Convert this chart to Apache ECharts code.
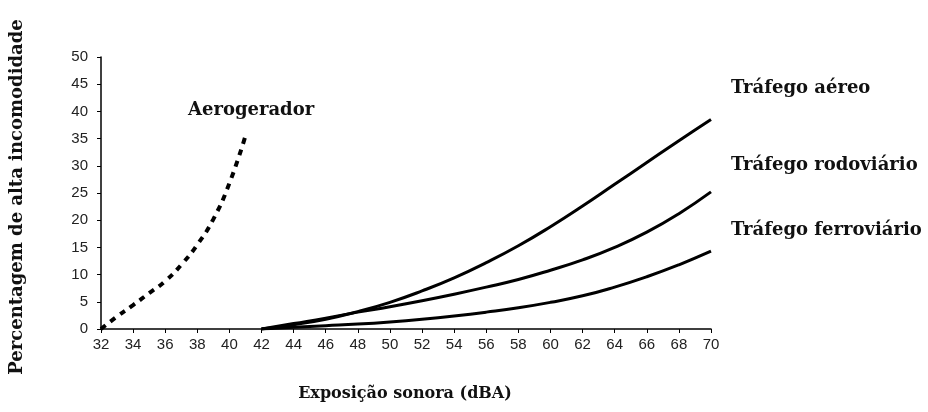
<!DOCTYPE html>
<html>
<head>
<meta charset="utf-8">
<script src="https://cdn.jsdelivr.net/npm/echarts@6/dist/echarts.min.js"></script>
<style>
html,body{margin:0;padding:0;background:#fff;}
#chart{width:928px;height:412px;}
</style>
</head>
<body>
<div id="chart"></div>
<script>
// ---- data ----
const windX = [32, 33, 34, 35, 36, 37, 38, 39, 40, 41];
const windY = [0, 2.3, 4.4, 6.6, 8.8, 11.8, 15.5, 20.2, 26.8, 35.5];

const trafficX = [42, 44, 46, 48, 50, 52, 54, 56, 58, 60, 62, 64, 66, 68, 70];
const airY  = [0, 0.8, 1.8, 3.2, 4.9, 7.0, 9.4, 12.2, 15.3, 18.8, 22.6, 26.6, 30.6, 34.6, 38.5];
const roadY = [0, 1.0, 2.0, 3.1, 4.1, 5.2, 6.4, 7.7, 9.1, 10.8, 12.7, 15.0, 17.8, 21.2, 25.2];
const railY = [0, 0.3, 0.6, 0.9, 1.3, 1.8, 2.4, 3.1, 3.9, 4.9, 6.1, 7.7, 9.6, 11.8, 14.3];

const seriesNames = ["Aerogerador", "Tráfego aéreo", "Tráfego rodoviário", "Tráfego ferroviário"];
const xAxisTitle = "Exposição sonora (dBA)";
const yAxisTitle = "Percentagem de alta incomodidade";

const zip = (xs, ys) => xs.map((x, i) => [x, ys[i]]);

const serifBold = { fontFamily: "DejaVu Serif", fontWeight: "bold", fontSize: 18, fill: "#111" };

const chart = echarts.init(document.getElementById("chart"), null, { renderer: "canvas" });
chart.setOption({
  animation: false,
  backgroundColor: "#ffffff",
  grid: { left: 101, right: 217, top: 57, bottom: 83, containLabel: false },
  xAxis: {
    type: "value", min: 32, max: 70, interval: 2,
    axisLine: { show: true, lineStyle: { color: "#000", width: 1.5 } },
    axisTick: { show: true, length: 4, lineStyle: { color: "#000" } },
    axisLabel: { color: "#222", fontFamily: "Liberation Sans", fontSize: 15, margin: 8 },
    splitLine: { show: false }
  },
  yAxis: {
    type: "value", min: 0, max: 50, interval: 5,
    axisLine: { show: true, lineStyle: { color: "#000", width: 1.5 } },
    axisTick: { show: true, length: 4, lineStyle: { color: "#000" } },
    axisLabel: { color: "#222", fontFamily: "Liberation Sans", fontSize: 15, margin: 13 },
    splitLine: { show: false }
  },
  series: [
    { name: seriesNames[0], type: "line", smooth: true, showSymbol: false,
      data: zip(windX, windY),
      lineStyle: { color: "#000", width: 4, type: [6, 6] } },
    { name: seriesNames[1], type: "line", smooth: true, showSymbol: false,
      data: zip(trafficX, airY), lineStyle: { color: "#000", width: 3 } },
    { name: seriesNames[2], type: "line", smooth: true, showSymbol: false,
      data: zip(trafficX, roadY), lineStyle: { color: "#000", width: 3 } },
    { name: seriesNames[3], type: "line", smooth: true, showSymbol: false,
      data: zip(trafficX, railY), lineStyle: { color: "#000", width: 3 } }
  ],
  graphic: [
    { type: "text", left: 188, top: 101, style: Object.assign({ text: seriesNames[0] }, serifBold) },
    { type: "text", left: 731, top: 79, style: Object.assign({ text: seriesNames[1] }, serifBold) },
    { type: "text", left: 731, top: 156, style: Object.assign({ text: seriesNames[2] }, serifBold) },
    { type: "text", left: 731, top: 221, style: Object.assign({ text: seriesNames[3] }, serifBold) },
    { type: "text", x: 405, y: 394, style: Object.assign({ text: xAxisTitle, align: "center", verticalAlign: "middle" }, serifBold, { fontSize: 16 }) },
    { type: "text", x: 17, y: 197, rotation: Math.PI / 2,
      style: Object.assign({ text: yAxisTitle, align: "center", verticalAlign: "middle" }, serifBold, { fontSize: 18 }) }
  ]
});
</script>
</body>
</html>
